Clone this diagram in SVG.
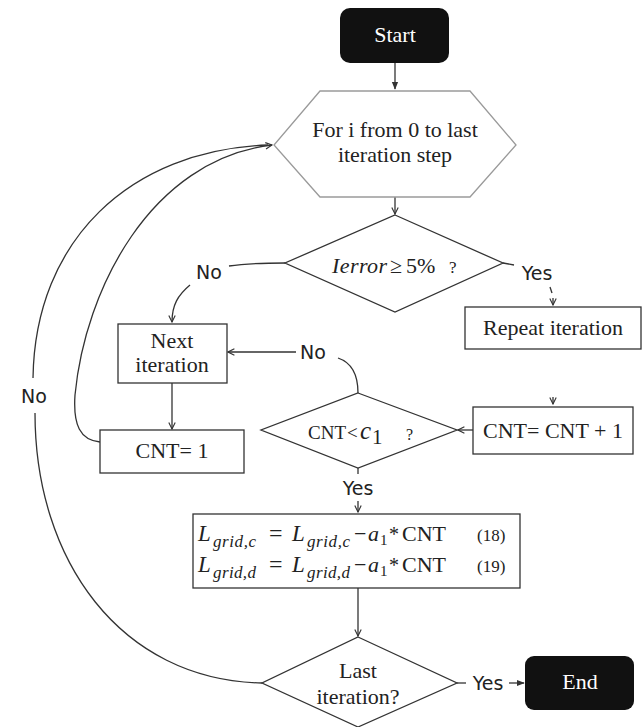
<svg xmlns="http://www.w3.org/2000/svg" width="642" height="727" viewBox="0 0 642 727">
  <style>
    .box { fill: #fff; stroke: #333; stroke-width: 1.3; }
    .term { fill: #111; stroke: none; }
    .hex { fill: #fff; stroke: #9a9a9a; stroke-width: 1.3; }
    .serif { font-family: "Liberation Serif", "Times New Roman", serif; font-size: 22px; fill: #222; }
    .white { fill: #fff; }
    .lbl { font-family: "DejaVu Sans", "Open Sans", sans-serif; font-size: 19px; fill: #222; }
    .it { font-style: italic; }
    .wire { fill: none; stroke: #333; stroke-width: 1.3; }
  </style>
  <defs>
    <marker id="open" viewBox="0 0 10 10" refX="9" refY="5" markerWidth="8" markerHeight="8" markerUnits="userSpaceOnUse" orient="auto">
      <path d="M1,1 L9,5 L1,9" fill="none" stroke="#333" stroke-width="1.4"/>
    </marker>
    <marker id="solid" viewBox="0 0 10 10" refX="9" refY="5" markerWidth="8" markerHeight="8" markerUnits="userSpaceOnUse" orient="auto">
      <path d="M0,1 L10,5 L0,9 Z" fill="#333"/>
    </marker>
  </defs>

  <!-- connectors -->
  <g id="connectors">
    <path class="wire" d="M395,63 L395,89" marker-end="url(#solid)"/>
    <path class="wire" d="M395,197 L395,214" marker-end="url(#open)"/>
    <path class="wire" d="M285,263 C262,263 242,264 229,266"/>
    <path class="wire" d="M190,285 C178,295 172,305 172,322" marker-end="url(#open)"/>
    <path class="wire" d="M503,263 L514,265"/>
    <path class="wire" d="M550,287 L552,293"/>
    <path class="wire" d="M553,298 L553,305" marker-end="url(#open)"/>
    <path class="wire" d="M553,397 L553,404" marker-end="url(#open)"/>
    <path class="wire" d="M172,383 L172,429" marker-end="url(#open)"/>
    <path class="wire" d="M358,393 C358,372 350,362 338,358"/>
    <path class="wire" d="M296,352 L228,352" marker-end="url(#open)"/>
    <path class="wire" d="M473,430 L458,430" marker-end="url(#open)"/>
    <path class="wire" d="M358,468 L358,474"/>
    <path class="wire" d="M358,501 L358,512" marker-end="url(#open)"/>
    <path class="wire" d="M358,588 L358,636" marker-end="url(#open)"/>
    <path class="wire" d="M100,442 C80,440 73,425 75,395 C85,290 150,160 272,145" marker-end="url(#open)"/>
    <path class="wire" d="M33,378 C35,240 130,150 268,145"/>
    <path class="wire" d="M262,683 C120,680 35,560 35,413"/>
    <path class="wire" d="M457,683 L466,683"/>
    <path class="wire" d="M509,683 L524,683" marker-end="url(#solid)"/>
    <text class="lbl" x="209" y="279" text-anchor="middle">No</text>
    <text class="lbl" x="537" y="280" text-anchor="middle">Yes</text>
    <text class="lbl" x="313" y="359" text-anchor="middle">No</text>
    <text class="lbl" x="358" y="495" text-anchor="middle">Yes</text>
    <text class="lbl" x="34" y="403" text-anchor="middle">No</text>
    <text class="lbl" x="488" y="690" text-anchor="middle">Yes</text>
  </g>

  <g id="start">
    <rect class="term" x="340" y="8" width="109" height="55" rx="10"/>
    <text class="serif white" x="395" y="42" text-anchor="middle">Start</text>
  </g>

  <g id="loop">
    <polygon class="hex" points="320,91 470,91 516,145 470,197 320,197 274,145"/>
    <text class="serif" x="395" y="137" text-anchor="middle">For i from 0 to last</text>
    <text class="serif" x="395" y="162" text-anchor="middle">iteration step</text>
  </g>

  <g id="error-check">
    <polygon class="box" points="395,215 503,263 395,312 285,263"/>
    <text class="serif" x="332" y="273"><tspan class="it" textLength="55">Ierror</tspan><tspan x="390">≥</tspan><tspan x="406">5%</tspan><tspan x="449" font-size="17">?</tspan></text>
  </g>

  <g id="repeat">
    <rect class="box" x="465" y="307" width="176" height="42"/>
    <text class="serif" x="553" y="335" text-anchor="middle">Repeat iteration</text>
  </g>

  <g id="next">
    <rect class="box" x="118" y="324" width="109" height="59"/>
    <text class="serif" x="172" y="348" text-anchor="middle">Next</text>
    <text class="serif" x="172" y="372" text-anchor="middle">iteration</text>
  </g>

  <g id="reset">
    <rect class="box" x="100" y="430" width="144" height="43"/>
    <text class="serif" x="172" y="458" text-anchor="middle">CNT= 1</text>
  </g>

  <g id="count-check">
    <polygon class="box" points="358,393 457,430 358,468 261,430"/>
    <text class="serif" x="308" y="439"><tspan font-size="19">CNT</tspan><tspan x="347" font-size="19">&lt;</tspan><tspan x="360" class="it" font-size="25">c</tspan><tspan x="372" y="444" font-size="21">1</tspan><tspan x="406" y="440" font-size="16">?</tspan></text>
  </g>

  <g id="increment">
    <rect class="box" x="473" y="407" width="160" height="47"/>
    <text class="serif" x="553" y="438" text-anchor="middle">CNT= CNT + 1</text>
  </g>

  <g id="update">
    <rect class="box" x="193" y="514" width="327" height="74"/>
    <text class="serif" y="541"><tspan x="198" class="it" font-size="23">L</tspan><tspan x="213" y="547" class="it" font-size="17" textLength="43">grid,c</tspan><tspan x="269" y="541" font-size="24">=</tspan><tspan x="292" class="it" font-size="23">L</tspan><tspan x="307" y="547" class="it" font-size="17" textLength="43">grid,c</tspan><tspan x="354" y="541">−</tspan><tspan x="368" class="it">a</tspan><tspan x="380" y="545" font-size="15">1</tspan><tspan x="389" y="541" font-size="20">*</tspan><tspan x="402">CNT</tspan><tspan x="477" font-size="17">(18)</tspan></text>
    <text class="serif" y="572"><tspan x="198" class="it" font-size="23">L</tspan><tspan x="213" y="578" class="it" font-size="17" textLength="43">grid,d</tspan><tspan x="269" y="572" font-size="24">=</tspan><tspan x="292" class="it" font-size="23">L</tspan><tspan x="307" y="578" class="it" font-size="17" textLength="43">grid,d</tspan><tspan x="354" y="572">−</tspan><tspan x="368" class="it">a</tspan><tspan x="380" y="576" font-size="15">1</tspan><tspan x="389" y="572" font-size="20">*</tspan><tspan x="402">CNT</tspan><tspan x="477" font-size="17">(19)</tspan></text>
  </g>

  <g id="last-check">
    <polygon class="box" points="358,637 457,683 358,727 262,683"/>
    <text class="serif" x="358" y="678" text-anchor="middle">Last</text>
    <text class="serif" x="358" y="704" text-anchor="middle">iteration?</text>
  </g>

  <g id="end">
    <rect class="term" x="525" y="656" width="109" height="54" rx="9"/>
    <text class="serif white" x="580" y="689" text-anchor="middle">End</text>
  </g>
</svg>
